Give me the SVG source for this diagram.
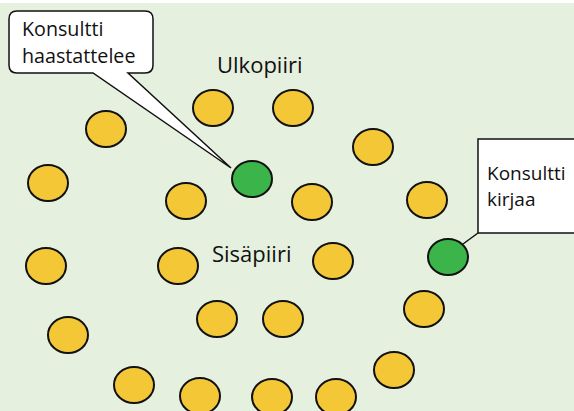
<svg xmlns="http://www.w3.org/2000/svg" width="574" height="411" viewBox="0 0 574 411">
  <style>
    .dot { fill: #f4c737; stroke: #111; stroke-width: 2; }
    .key { fill: #3bb54a; stroke: #111; stroke-width: 2; }
    .box { fill: #fff; stroke: #111; stroke-width: 1.5; }
    .lbl { font-family: "Open Sans", "Noto Sans", sans-serif; fill: #111; }
    .call { font-size: 19.7px; }
    .note { font-size: 19px; }
    .ring { font-size: 22px; }
  </style>
  <defs>
    <ellipse id="e" cx="0" cy="0" rx="20" ry="18"/>
  </defs>
  <rect x="0" y="0" width="574" height="411" fill="#fff"/>
  <rect x="0" y="3" width="574" height="408" fill="#e5f0de"/>

  <g id="ring-labels">
    <text class="lbl ring" x="217" y="73">Ulkopiiri</text>
    <text class="lbl ring" x="212" y="262">Sisäpiiri</text>
  </g>

  <g id="dots">
    <use href="#e" class="dot" x="213" y="108"/>
    <use href="#e" class="dot" x="293" y="108"/>
    <use href="#e" class="dot" x="106" y="129"/>
    <use href="#e" class="dot" x="373" y="147"/>
    <use href="#e" class="dot" x="48" y="183"/>
    <use href="#e" class="dot" x="186" y="201"/>
    <use href="#e" class="dot" x="312" y="202"/>
    <use href="#e" class="dot" x="427" y="200"/>
    <use href="#e" class="dot" x="46" y="266"/>
    <use href="#e" class="dot" x="178" y="266"/>
    <use href="#e" class="dot" x="333" y="261"/>
    <use href="#e" class="dot" x="217" y="319"/>
    <use href="#e" class="dot" x="283" y="319"/>
    <use href="#e" class="dot" x="68" y="335"/>
    <use href="#e" class="dot" x="424" y="309"/>
    <use href="#e" class="dot" x="394" y="370"/>
    <use href="#e" class="dot" x="134" y="385"/>
    <use href="#e" class="dot" x="200" y="396"/>
    <use href="#e" class="dot" x="272" y="397"/>
    <use href="#e" class="dot" x="336" y="397"/>
  </g>

  <g id="consultant-interview">
    <use href="#e" class="key" x="252" y="179"/>
  </g>
  <g id="consultant-record">
    <use href="#e" class="key" x="448" y="257"/>
  </g>

  <g id="connectors">
    <line x1="478" y1="233" x2="463" y2="244" stroke="#111" stroke-width="1.5"/>
  </g>

  <g id="callout-interview">
    <path class="box" d="M17,11 H145 Q153,11 153,19 V65 Q153,73 145,73 H128 L231,168 L93,73 H17 Q9,73 9,65 V19 Q9,11 17,11 Z"/>
    <text class="lbl call" x="22" y="36">Konsultti</text>
    <text class="lbl call" x="22" y="63">haastattelee</text>
  </g>

  <g id="callout-record">
    <rect class="box" x="478" y="139" width="100" height="94"/>
    <text class="lbl note" x="487" y="180">Konsultti</text>
    <text class="lbl note" x="487" y="206">kirjaa</text>
  </g>
</svg>
